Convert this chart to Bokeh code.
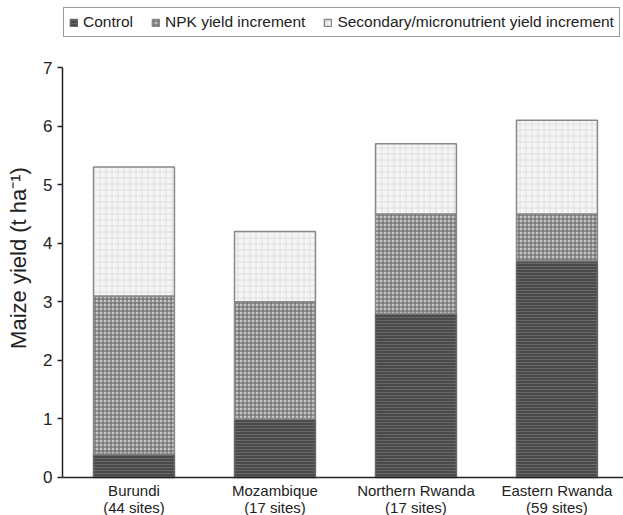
from bokeh.plotting import figure
from bokeh.models import ColumnDataSource, Legend, LegendItem, FixedTicker, Range1d, Span
from bokeh.core.properties import value
from bokeh.embed import file_html
from bokeh.resources import INLINE

sites = ["Burundi\n(44 sites)", "Mozambique\n(17 sites)", "Northern Rwanda\n(17 sites)", "Eastern Rwanda\n(59 sites)"]
control = [0.4, 1.0, 2.8, 3.7]
npk_inc = [2.7, 2.0, 1.7, 0.8]
sec_inc = [2.2, 1.2, 1.2, 1.6]
series_names = ["Control", "NPK yield increment", "Secondary/micronutrient yield increment"]
y_ticks = [0, 1, 2, 3, 4, 5, 6, 7]

xs = list(range(len(sites)))
t1 = list(control)
t2 = [a + b for a, b in zip(control, npk_inc)]
t3 = [a + b for a, b in zip(t2, sec_inc)]

src = ColumnDataSource(dict(x=xs, b0=[0] * len(xs), t1=t1, t2=t2, t3=t3,
                            lab=sites, ly=[0] * len(xs)))

FONT = "Liberation Sans"
p = figure(width=623, height=515, output_backend="svg", toolbar_location=None,
           x_range=Range1d(-0.507, 3.472), y_range=Range1d(-0.649, 8.144),
           min_border_left=62, min_border_right=0, min_border_top=0, min_border_bottom=0,
           x_axis_location=None)
p.outline_line_color = None
p.grid.visible = False
p.background_fill_color = "white"

w = 0.574
r1 = p.vbar(x="x", bottom="b0", top="t1", width=w, source=src,
            fill_color="#4a4a4a", line_color="#666666", line_width=1.5,
            hatch_pattern="horizontal_line", hatch_color="#686868", hatch_scale=3, hatch_weight=1)
r2 = p.vbar(x="x", bottom="t1", top="t2", width=w, source=src,
            fill_color="#c4c4c4", line_color="#888888", line_width=1.5,
            hatch_pattern="cross", hatch_color="#5e5e5e", hatch_scale=4, hatch_weight=1)
r3 = p.vbar(x="x", bottom="t2", top="t3", width=w, source=src,
            fill_color="#f5f5f5", line_color="#888888", line_width=1.5,
            hatch_pattern="cross", hatch_color="#dedede", hatch_scale=6, hatch_weight=1)

# x axis line and category labels
p.add_layout(Span(location=0, dimension="width", line_color="#222222", line_width=1.5))
p.text(x="x", y="ly", text="lab", source=src, text_align="center", text_baseline="top",
       y_offset=5, text_font=value(FONT), text_font_size="15px", text_color="#222222",
       text_line_height=1.0)

p.yaxis.ticker = FixedTicker(ticks=y_ticks)
p.yaxis.bounds = (0, 7)
p.yaxis.minor_tick_line_color = None
p.yaxis.major_tick_out = 5
p.yaxis.major_tick_in = 0
p.yaxis.axis_line_color = "#222222"
p.yaxis.major_tick_line_color = "#222222"
p.yaxis.axis_line_width = 1.5
p.yaxis.major_tick_line_width = 1.5
p.yaxis.major_label_text_font = FONT
p.yaxis.major_label_text_font_size = "17px"
p.yaxis.major_label_text_color = "#222222"
p.yaxis.major_label_standoff = 5
p.yaxis.axis_label = "Maize yield (t ha\u207b\u00b9)"
p.yaxis.axis_label_text_font = FONT
p.yaxis.axis_label_text_font_size = "22px"
p.yaxis.axis_label_text_font_style = "normal"
p.yaxis.axis_label_text_color = "#222222"
p.yaxis.axis_label_standoff = 9

legend = Legend(items=[LegendItem(label=series_names[0], renderers=[r1]),
                       LegendItem(label=series_names[1], renderers=[r2]),
                       LegendItem(label=series_names[2], renderers=[r3])],
                orientation="horizontal", location=(1, 478),
                glyph_width=9, glyph_height=9, label_text_font=FONT,
                label_text_font_size="15.5px", label_text_color="#222222",
                spacing=18, padding=5, margin=0, label_standoff=5,
                border_line_color="#333333", border_line_width=1.2,
                label_height=17)
p.add_layout(legend, "center")

open("out.html", "w").write(file_html(p, INLINE))
